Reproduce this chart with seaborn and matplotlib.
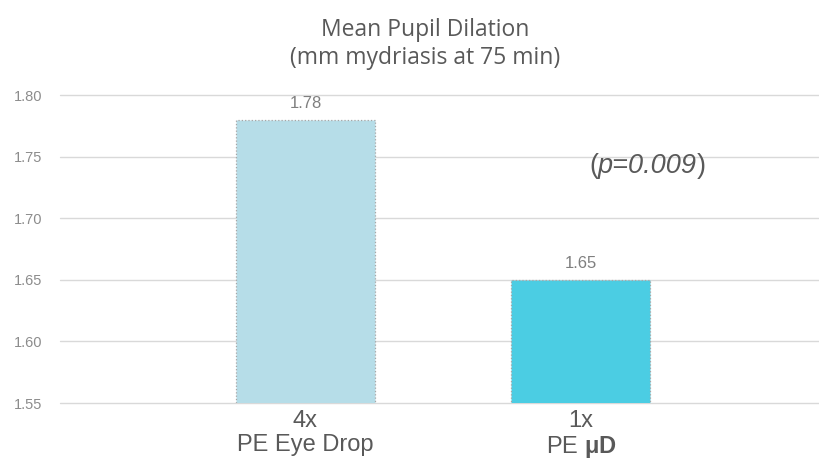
import matplotlib
matplotlib.use("Agg")
import matplotlib.pyplot as plt
import seaborn as sns
import pandas as pd


# DATA

categories = ["4x\nPE Eye Drop", "1x\nPE $\\mathbf{μD}$"]
values = [1.78, 1.65]
bar_colors = ["#B6DDE8", "#4BCDE3"]
y_ticks = [1.55, 1.60, 1.65, 1.70, 1.75, 1.80]


# STYLE

sns.set_theme(style="white")
plt.rcParams['font.family'] = ['Liberation Sans', 'DejaVu Sans']
plt.rcParams['mathtext.fontset'] = 'custom'
plt.rcParams['mathtext.rm'] = 'Liberation Sans'
plt.rcParams['mathtext.bf'] = 'Liberation Sans:bold'

df = pd.DataFrame({"group": categories, "value": values})

fig = plt.figure(figsize=(8.2, 4.69), dpi=100)
ax = fig.add_axes([0.0732, 0.1407, 0.9268, 0.6567])

sns.barplot(data=df, x="group", y="value", hue="group", palette=bar_colors,
            saturation=1, width=0.505, legend=False, ax=ax,
            edgecolor="#A6A6A6", linewidth=0.9, linestyle=":")

ax.set_ylim(1.55, 1.80)
ax.set_xlim(-0.891, 1.868)
ax.set_yticks(y_ticks)
ax.set_yticklabels([f"{t:.2f}" for t in y_ticks], color="#8C8C8C", fontsize=10.5)
ax.yaxis.grid(True, color="#D9D9D9", linewidth=1)
for gl in ax.get_ygridlines():
    gl.set_clip_on(False)
ax.set_axisbelow(True)
ax.tick_params(axis="y", length=0, pad=13)
ax.tick_params(axis="x", length=0, pad=5, labelsize=17, labelcolor="#595959")
for lbl in ax.get_xticklabels():
    lbl.set_linespacing(1.12)
ax.set_xlabel("")
ax.set_ylabel("")
sns.despine(ax=ax, left=True, bottom=True, top=True, right=True)

# value labels
for i, v in enumerate(values):
    ax.text(i, v + 0.007, f"{v:.2f}", ha="center", va="bottom",
            fontsize=12, color="#7F7F7F")

# p-value note: upright parentheses, italic body
t1 = ax.text(1.029, 1.742, "(", ha="left", va="center", fontsize=19.5,
             color="#595959")
t2 = ax.annotate("p=0.009", xy=(1, 0.5), xycoords=t1, ha="left", va="center",
                 fontsize=19.5, color="#595959", style="italic")
ax.annotate(")", xy=(1, 0.5), xycoords=t2, ha="left", va="center",
            fontsize=19.5, color="#595959")

fig.text(0.518, 0.907, "Mean Pupil Dilation\n(mm mydriasis at 75 min)",
         ha="center", va="center", fontsize=16.5, color="#595959",
         family=["Open Sans", "DejaVu Sans"], linespacing=1.22)

fig.savefig("out.png", dpi=100)
